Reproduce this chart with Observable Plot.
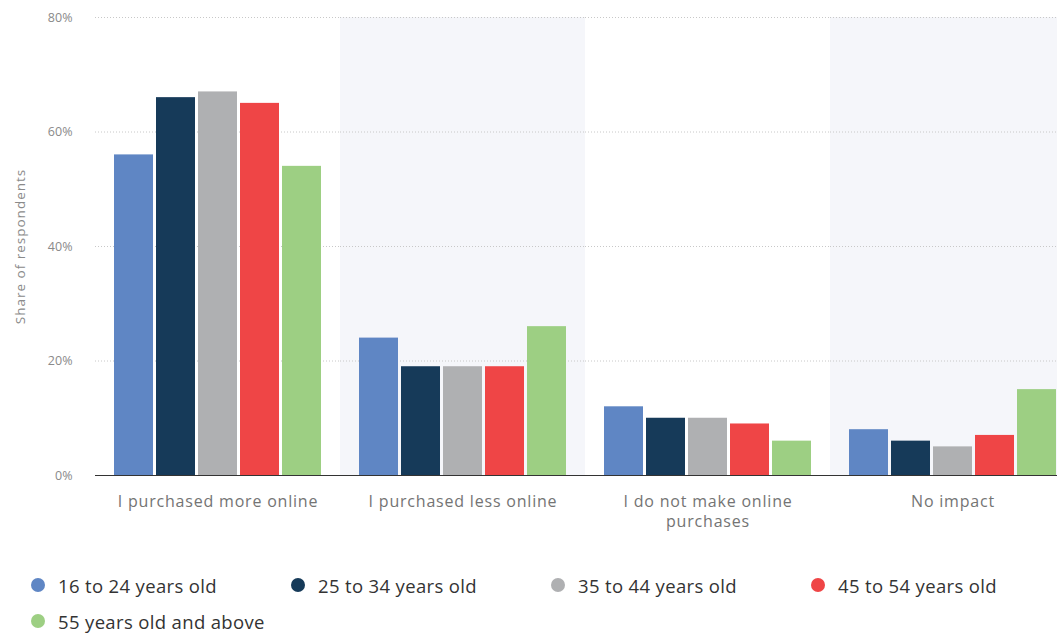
<!DOCTYPE html>
<html>
<head>
<meta charset="utf-8">
<script src="https://cdn.jsdelivr.net/npm/d3@7"></script>
<script src="https://cdn.jsdelivr.net/npm/@observablehq/plot@0.6"></script>
<style>
  html, body { margin: 0; padding: 0; background: #fff; overflow: hidden; }
  #chart svg { display: block; max-width: none !important; }
  #chart g[aria-label="y-axis label"] { font-size: 13.5px; letter-spacing: 1px; }
  #chart g[aria-label="fx-axis tick label"] { letter-spacing: 0.8px; }
  .legend {
    display: grid;
    grid-template-columns: repeat(4, 260px);
    grid-auto-rows: 36px;
    padding-left: 31px;
    margin-top: 27px;
    width: 1100px;
    font-family: "Open Sans", "DejaVu Sans", sans-serif;
    font-size: 18.5px;
    letter-spacing: 0.35px;
    color: #333;
  }
  .legend .item { display: flex; align-items: center; }
  .legend .dot { width: 14px; height: 14px; border-radius: 50%; margin-right: 13px; flex: none; }
</style>
</head>
<body>
<div id="chart"></div>
<div class="legend" id="legend"></div>
<script>
// Impact on online shopping, by age group (share of respondents, %)
const categories = [
  "I purchased more online",
  "I purchased less online",
  "I do not make online purchases",
  "No impact"
];
const ageGroups = [
  "16 to 24 years old",
  "25 to 34 years old",
  "35 to 44 years old",
  "45 to 54 years old",
  "55 years old and above"
];
const age16to24 = [56, 24, 12, 8];
const age25to34 = [66, 19, 10, 6];
const age35to44 = [67, 19, 10, 5];
const age45to54 = [65, 19, 9, 7];
const age55plus = [54, 26, 6, 15];
const colors = ["#5f86c4", "#163a59", "#afb0b2", "#ef4546", "#9dcf83"];
const yTicks = [0, 20, 40, 60, 80];
const shadedCategories = [categories[1], categories[3]];

const series = [age16to24, age25to34, age35to44, age45to54, age55plus];
const rows = [];
series.forEach((vals, i) => {
  vals.forEach((v, j) => rows.push({category: categories[j], age: ageGroups[i], value: v}));
});

const chart = Plot.plot({
  width: 1080,
  height: 540,
  marginLeft: 95,
  marginRight: 5,
  marginTop: 17,
  marginBottom: 65,
  style: {background: "#fff", maxWidth: "none", fontFamily: "Open Sans"},
  fx: {domain: categories, padding: 0},
  x: {domain: ageGroups, paddingInner: 0.07, paddingOuter: 0.45, axis: null},
  y: {domain: [0, 80]},
  color: {domain: ageGroups, range: colors},
  marks: [
    Plot.rect(shadedCategories, {fx: d => d, fill: "#f5f6fa"}),
    Plot.gridY(yTicks, {stroke: "#c8c8c8", strokeOpacity: 1, strokeDasharray: "1,2"}),
    Plot.barY(rows, {fx: "category", x: "age", y: "value", fill: "age"}),
    Plot.ruleY([0], {stroke: "#333", strokeWidth: 1.2}),
    Plot.axisY(yTicks, {
      tickSize: 0, tickPadding: 23, tickFormat: d => d + "%",
      fontSize: 12.5, color: "#8a8a8a",
      label: "Share of respondents", labelAnchor: "center", labelArrow: "none", labelOffset: 80
    }),
    Plot.axisFx({
      anchor: "bottom", tickSize: 0, tickPadding: 17, label: null,
      fontSize: 16, color: "#747474", lineWidth: 12, lineHeight: 1.25
    })
  ]
});
document.getElementById("chart").appendChild(chart);

const legend = document.getElementById("legend");
ageGroups.forEach((g, i) => {
  const item = document.createElement("div");
  item.className = "item";
  const dot = document.createElement("span");
  dot.className = "dot";
  dot.style.background = colors[i];
  const label = document.createElement("span");
  label.textContent = g;
  item.append(dot, label);
  legend.appendChild(item);
});
</script>
</body>
</html>
